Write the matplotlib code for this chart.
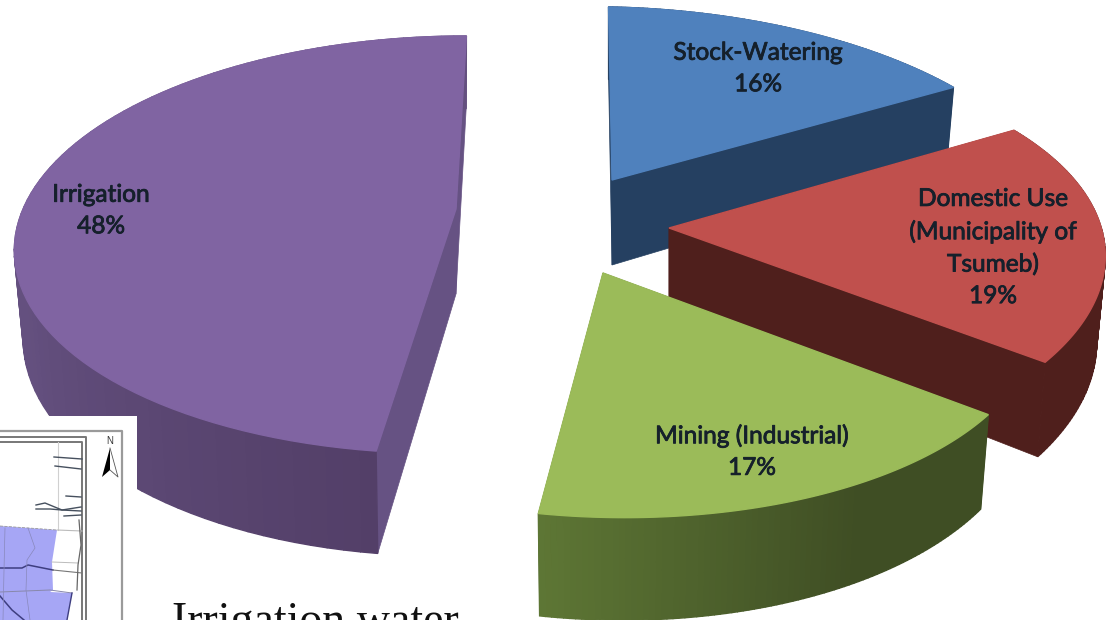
import numpy as np
import matplotlib
matplotlib.use("Agg")
import matplotlib.pyplot as plt
import matplotlib.patheffects as pe
from matplotlib.colors import to_rgb

labels = ["Stock-Watering\n16%", "Domestic Use\n(Municipality of\nTsumeb)\n19%", "Mining (Industrial)\n17%", "Irrigation\n48%"]
values = [16, 19, 17, 48]
top_colors = ["#4F81BD", "#C0504D", "#9BBB59", "#8064A2"]
wall_left = ["#254061", "#4F1F1C", "#5E7735", "#64507F"]
wall_right = ["#254061", "#4F1F1C", "#3F4E24", "#533F68"]
side_colors = ["#254061", "#4F1F1C", "#3F4E24", "#665283"]

# where each exploded slice sits, pixels
apex_x = [612, 669, 603, 456]
apex_y = [180, 228, 273, 209]
skew = [0.02, -0.1, 0.0, -0.06]
tilt = [0.02, 0.005, 0.024, 0.0]
x_scale = [1, 0.975, 0.965, 0.975]
label_x = [758, 993, 752, 101]
label_y = [69, 248, 452, 211]

RX = 444
RY = 202.6
PERSP = 0.171
DEPTH = 85
NARROW = 0.98

fig = plt.figure(figsize=(11.08, 6.2), dpi=100)
ax = fig.add_axes([0, 0, 1, 1])
ax.set_xlim(0, 1108)
ax.set_ylim(620, 0)
ax.axis("off")


def rim(theta, i):
    w = 1 + PERSP * np.cos(theta)
    dy = -RY * np.cos(theta) / w
    dx = RX * x_scale[i] * np.sin(theta) / w + skew[i] * dy
    return dx, dy + tilt[i] * dx, DEPTH / w


def mix(c1, c2, t):
    a = np.array(to_rgb(c1))
    b = np.array(to_rgb(c2))
    return tuple(a + (b - a) * t)


def draw_slice(i, start, end):
    x0 = apex_x[i]
    y0 = apex_y[i]
    th = np.linspace(start, end, 90)
    dx, dy, d = rim(th, i)
    # straight side walls first
    for k in [0, -1]:
        ax.fill([x0, x0 + dx[k], x0 + dx[k] * NARROW, x0],
                [y0, y0 + dy[k], y0 + dy[k] + d[k], y0 + DEPTH],
                color=side_colors[i], lw=0.5, zorder=i * 3 + 1)
    # outer wall, darker toward the front right
    for k in range(len(th) - 1):
        t = (dx[k] - dx.min()) / max(dx.max() - dx.min(), 1)
        c = mix(wall_left[i], wall_right[i], min(t * 1.4, 1))
        if i == 3:
            t = (th[k] - th[0]) / (th[-1] - th[0])
            c = mix(wall_right[i], wall_left[i], min(t * 3, 1))
        ax.fill([x0 + dx[k], x0 + dx[k + 1], x0 + dx[k + 1] * NARROW, x0 + dx[k] * NARROW],
                [y0 + dy[k], y0 + dy[k + 1], y0 + dy[k + 1] + d[k + 1], y0 + dy[k] + d[k]],
                color=c, lw=1.0, zorder=i * 3 + 2)
    ax.fill(np.r_[x0, x0 + dx], np.r_[y0, y0 + dy], facecolor=top_colors[i],
            edgecolor=top_colors[i], lw=1.0, zorder=i * 3 + 3)


edges = np.cumsum([0] + values) / sum(values) * 2 * np.pi
for i in range(len(values)):
    draw_slice(i, edges[i], edges[i + 1])

for i in range(len(labels)):
    ax.text(label_x[i], label_y[i], labels[i], ha="center", va="center", family="Lato",
            fontsize=17.6, color="#15202b", linespacing=1.62, zorder=30,
            path_effects=[pe.withStroke(linewidth=0.6, foreground="#15202b")])

# map inset in the corner
ax.fill([0, 137, 137, 0], [416, 416, 620, 620], color="white", lw=0, zorder=20)
ax.fill([0, 57, 52, 53, 50, 72, 67, 0], [526, 530, 562, 590, 592, 593, 620, 620], color="#A6A6F5", lw=0, zorder=21)
ax.plot([0, 122, 122], [431, 431, 620], color="#9a9a9a", lw=1.6, zorder=22)
ax.plot([0, 86, 86], [437, 437, 620], color="#777777", lw=1.4, zorder=22)
ax.plot([0, 82, 82], [442, 442, 620], color="#777777", lw=1.4, zorder=22)
ax.plot([58, 58], [442, 530], color="#d0d0d0", lw=0.8, zorder=22)
ax.plot([0, 57], [526, 530], color="#999999", lw=0.6, ls="--", zorder=22)
ax.plot([57, 82], [530, 531], color="#bbbbbb", lw=0.8, zorder=22)
ax.plot([0, 22, 28, 53], [568, 568, 565, 570], color="#3e3e80", lw=1.1, zorder=22)
ax.plot([53, 82], [570, 573], color="#777777", lw=0.8, zorder=22)
ax.plot([52, 78], [562, 563], color="#bbbbbb", lw=0.7, zorder=22)
ax.plot([0, 50, 72], [592, 590, 593], color="#8888aa", lw=0.7, zorder=22)
ax.plot([72, 67], [593, 620], color="#3e3e80", lw=1, zorder=22)
ax.plot([0, 12, 24], [596, 610, 620], color="#3e3e80", lw=1.1, zorder=22)
ax.plot([5, 4, 3], [528, 570, 620], color="#8888bb", lw=0.5, zorder=22)
ax.plot([28, 35, 27, 26, 30], [528, 548, 560, 590, 620], color="#8888bb", lw=0.5, zorder=22)
ax.plot([79, 81, 78, 77], [520, 545, 565, 590], color="#666666", lw=0.9, zorder=22)
ax.plot([54, 82], [457, 459], color="#46505e", lw=1, zorder=22)
ax.plot([55, 81], [466, 469], color="#46505e", lw=1, zorder=22)
ax.plot([66, 81], [496, 497], color="#46505e", lw=1, zorder=22)
ax.plot([36, 45, 62, 81], [505, 503, 510, 507], color="#46505e", lw=1, zorder=22)
ax.plot([36, 50, 62, 81], [509, 509, 510, 511], color="#46505e", lw=1, zorder=22)
ax.plot([64, 81], [516, 515], color="#46505e", lw=1, zorder=22)
ax.fill([110, 102, 110], [448, 477, 470], color="black", lw=0, zorder=22)
ax.plot([110, 118, 110], [448, 477, 470], color="#555555", lw=0.6, zorder=22)
ax.text(110, 441, "N", ha="center", va="center", fontsize=7, color="#333333", family="Liberation Sans", zorder=23)

ax.text(172, 634, "Irrigation water", ha="left", va="baseline", family="Liberation Serif",
        fontsize=33, color="#111111", zorder=30, clip_on=True)

fig.savefig("out.png", dpi=100)
